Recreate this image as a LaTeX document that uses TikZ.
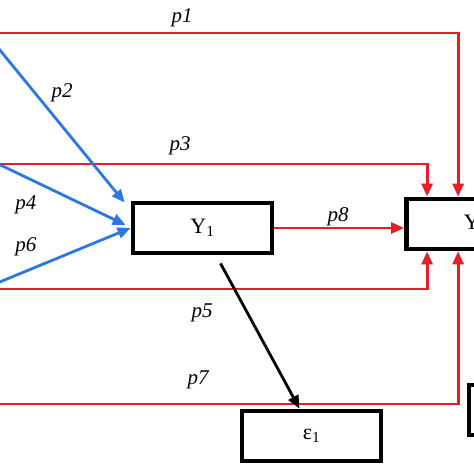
\documentclass[tikz,border=0pt]{standalone}
\usepackage{fontspec}
\setmainfont{Liberation Serif}
\usepackage{tikz}
\usetikzlibrary{arrows.meta, calc, positioning}
\definecolor{pathred}{RGB}{232,30,38}
\definecolor{pathblue}{RGB}{42,120,228}

\begin{document}
\begin{tikzpicture}[x=1pt, y=-1pt, >={Triangle[length=13pt,width=11pt]},
block/.style={rectangle, draw, line width=4.8pt, minimum width=139pt, minimum height=50pt, inner sep=0pt, font=\fontsize{22}{26}\selectfont},
coef/.style={inner sep=0pt, font=\fontsize{21}{25}\selectfont\itshape},
redline/.style={draw, pathred, line width=2.8pt, ->},
blueline/.style={draw, pathblue, line width=2.8pt, ->},
line/.style={draw, black, line width=2.8pt, ->}]

% Frame (the picture is cut on the left and right)
\useasboundingbox (0,0) rectangle (474,474);
\fill[white] (0,0) rectangle (474,474);
\clip (0,0) rectangle (474,474);

% Nodes
\node[block] (Y1) at (202.5,228) {Y\textsubscript{1}};
\node[block] (Y2) at (476,224) {Y\textsubscript{2}};
\node[block] (eps1) at (311.5,436) {ε\textsubscript{1}};
\node[block] (eps2) at (538.5,410) {};

% Sources outside the frame
\coordinate (s1) at (-10,33);
\coordinate (s2) at (-10,38);
\coordinate (s3) at (-10,164);
\coordinate (s4) at (-10,160);
\coordinate (s5) at (-10,289);
\coordinate (s6) at (-10,286);
\coordinate (s7) at (-10,404);

% Paths
\path[redline] (s1) -| ($(Y2.north west)+(54,0)$);
\path[redline] (s3) -| ($(Y2.north west)+(23,0)$);
\path[redline] (s5) -| ($(Y2.south west)+(23,0)$);
\path[redline] (s7) -| ($(Y2.south west)+(54,0)$);
\path[redline] (Y1.east) -- (Y1.east -| Y2.west);
\path[blueline] (s2) -- ($(Y1.north west)+(-6,2)$);
\path[blueline] (s4) -- ($(Y1.west)+(-5,-3)$);
\path[blueline] (s6) -- (Y1.west);
\path[line] ($(Y1.south)+(18,8)$) -- ($(eps1.north)+(-12,0)$);

% Labels
\node[coef] (l1) at (182,18) {p1};
\node[coef] (l2) at (62,93) {p2};
\node[coef] (l3) at (180,146) {p3};
\node[coef] (l4) at (26,205) {p4};
\node[coef] (l5) at (202,313) {p5};
\node[coef] (l6) at (26,247) {p6};
\node[coef] (l7) at (198,380) {p7};
\node[coef] (l8) at (338,217) {p8};
\end{tikzpicture}
\end{document}
